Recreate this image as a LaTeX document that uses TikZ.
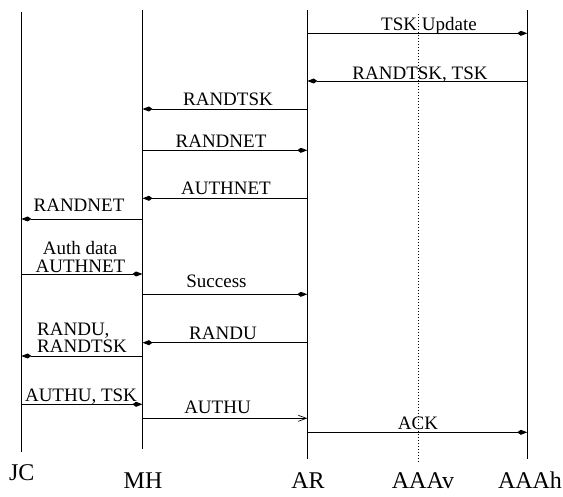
\documentclass[tikz,border=0pt]{standalone}
\usepackage{fontspec}
\setmainfont{Liberation Serif}
\usetikzlibrary{arrows.meta}
\begin{document}
\begin{tikzpicture}[x=1pt,y=-1pt,
  lifeline/.style={line width=1pt},
  virtual/.style={line width=1pt,dotted},
  msg/.style={line width=0.9pt,-{Kite[length=10pt,width=5pt,inset=3.5pt]}},
  openmsg/.style={line width=0.9pt,-{Straight Barb[length=8pt,width=6pt,line width=0.7pt]}},
  lbl/.style={anchor=base,inner sep=0pt,font=\fontsize{19}{21}\selectfont},
  party/.style={anchor=base,inner sep=0pt,font=\fontsize{24}{26}\selectfont}]
\useasboundingbox (0,0) rectangle (563,497);

% lifelines
\coordinate (jc)   at (21.3,0);
\coordinate (mh)   at (142.5,0);
\coordinate (ar)   at (307.3,0);
\coordinate (aaav) at (418.5,0);
\coordinate (aaah) at (527.3,0);

\draw[lifeline] (jc |- 0,12) -- (jc |- 0,452);
\draw[lifeline] (mh |- 0,10) -- (mh |- 0,449);
\draw[lifeline] (ar |- 0,10) -- (ar |- 0,459);
\draw[virtual]  (aaav |- 0,14) -- (aaav |- 0,463);
\draw[lifeline] (aaah |- 0,10) -- (aaah |- 0,459);

% party names
\node[party] (njc)   at (21.7,480) {JC};
\node[party] (nmh)   at (143,488)  {MH};
\node[party] (nar)   at (308,488)  {AR};
\node[party] (naaav) at (423,488)  {AAAv};
\node[party] (naaah) at (530,488)  {AAAh};

% messages
\draw[msg] (ar |- 0,33.3) -- (aaah |- 0,33.3);
\node[lbl] (m1) at (429,30.7) {TSK Update};

\draw[msg] (aaah |- 0,81) -- (ar |- 0,81);
\node[lbl] (m2) at (420,79.3) {RANDTSK, TSK};

\draw[msg] (ar |- 0,109) -- (mh |- 0,109);
\node[lbl] (m3) at (228,106) {RANDTSK};

\draw[msg] (mh |- 0,150.3) -- (ar |- 0,150.3);
\node[lbl] (m4) at (221,147.3) {RANDNET};

\draw[msg] (ar |- 0,198.3) -- (mh |- 0,198.3);
\node[lbl] (m5) at (226,194.5) {AUTHNET};

\draw[msg] (mh |- 0,219) -- (jc |- 0,219);
\node[lbl] (m6) at (79,211.7) {RANDNET};

\draw[msg] (jc |- 0,274) -- (mh |- 0,274);
\node[lbl] (m7a) at (80,255) {Auth data};
\node[lbl] (m7b) at (80.5,272.3) {AUTHNET};

\draw[msg] (mh |- 0,294.3) -- (ar |- 0,294.3);
\node[lbl] (m8) at (216.5,287.3) {Success};

\draw[msg] (ar |- 0,342.7) -- (mh |- 0,342.7);
\node[lbl] (m9) at (223,340) {RANDU};

\draw[msg] (mh |- 0,356) -- (jc |- 0,356);
\node[lbl,anchor=base west] (m10a) at (37,335.7) {RANDU,};
\node[lbl,anchor=base west] (m10b) at (37,353) {RANDTSK};

\draw[msg] (jc |- 0,404.3) -- (mh |- 0,404.3);
\node[lbl] (m11) at (81,401.7) {AUTHU, TSK};

\draw[openmsg] (mh |- 0,418.3) -- (ar |- 0,418.3);
\node[lbl] (m12) at (217.5,413.3) {AUTHU};

\draw[msg] (ar |- 0,432.3) -- (aaah |- 0,432.3);
\node[lbl] (m13) at (418,430) {ACK};
\end{tikzpicture}
\end{document}
